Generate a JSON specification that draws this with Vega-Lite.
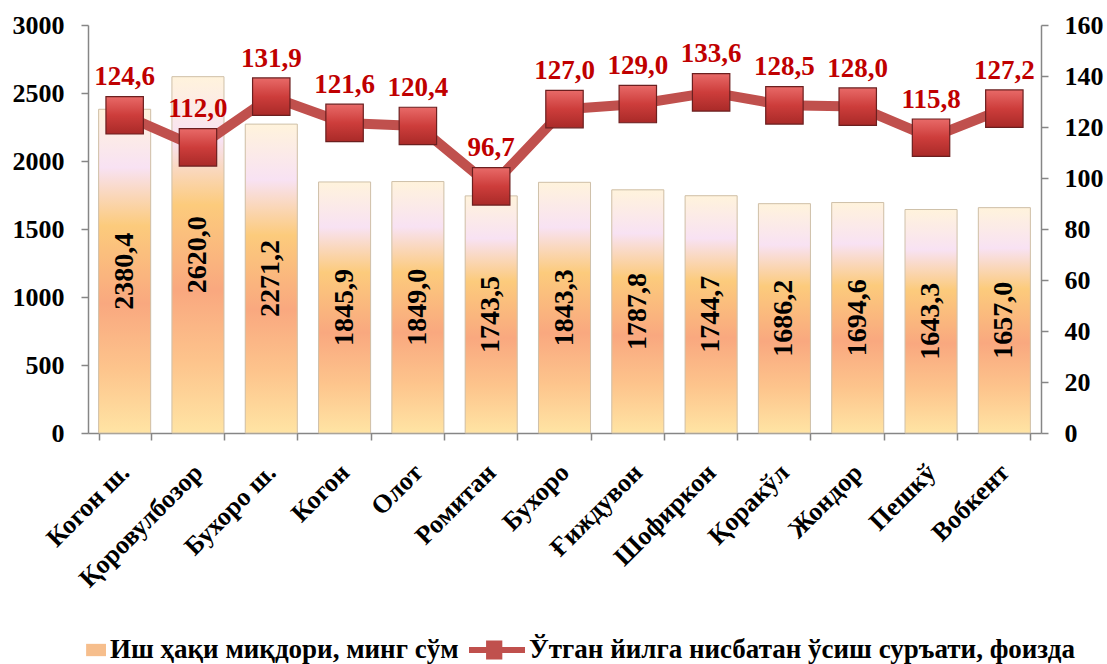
{
  "$schema": "https://vega.github.io/schema/vega-lite/v6.json",
  "width": 953,
  "height": 408,
  "autosize": {"type": "none"},
  "padding": {"left": 88, "top": 25, "right": 66, "bottom": 231},
  "background": "white",
  "config": {
    "locale": {"number": {"decimal": ",", "thousands": "", "grouping": [3], "currency": ["", ""]}},
    "view": {"stroke": null},
    "font": "Liberation Serif",
    "axis": {
      "domainColor": "#868686",
      "domainWidth": 1.5,
      "tickColor": "#868686",
      "tickWidth": 1.5,
      "tickSize": 7,
      "labelFont": "Liberation Serif",
      "labelFontSize": 26,
      "labelFontWeight": "bold",
      "labelColor": "#000000",
      "grid": false,
      "title": null
    }
  },
  "data": {
    "values": [
      {"region": "Когон ш.", "wage": 2380.4, "growth": 124.6},
      {"region": "Қоровулбозор", "wage": 2620.0, "growth": 112.0},
      {"region": "Бухоро ш.", "wage": 2271.2, "growth": 131.9},
      {"region": "Когон", "wage": 1845.9, "growth": 121.6},
      {"region": "Олот", "wage": 1849.0, "growth": 120.4},
      {"region": "Ромитан", "wage": 1743.5, "growth": 96.7},
      {"region": "Бухоро", "wage": 1843.3, "growth": 127.0},
      {"region": "Ғиждувон", "wage": 1787.8, "growth": 129.0},
      {"region": "Шофиркон", "wage": 1744.7, "growth": 133.6},
      {"region": "Қоракўл", "wage": 1686.2, "growth": 128.5},
      {"region": "Жондор", "wage": 1694.6, "growth": 128.0},
      {"region": "Пешкў", "wage": 1643.3, "growth": 115.8},
      {"region": "Вобкент", "wage": 1657.0, "growth": 127.2}
    ]
  },
  "encoding": {
    "x": {
      "field": "region",
      "type": "nominal",
      "sort": null,
      "scale": {"paddingInner": 0.29, "paddingOuter": 0.145},
      "axis": {
        "title": null,
        "labelAngle": -45,
        "labelAlign": "right",
        "labelBaseline": "middle",
        "labelPadding": 28,
        "labelLimit": 400,
        "tickBand": "extent"
      }
    }
  },
  "layer": [
    {
      "encoding": {
        "y": {
          "field": "wage",
          "type": "quantitative",
          "scale": {"domain": [0, 3000], "nice": false},
          "axis": {"orient": "left", "values": [0, 500, 1000, 1500, 2000, 2500, 3000], "format": "d", "labelPadding": 17, "title": null}
        }
      },
      "layer": [
        {
          "mark": {"type": "bar"},
          "encoding": {
            "color": {
              "datum": "Иш ҳақи миқдори, минг сўм",
              "type": "nominal",
              "scale": {
                "domain": ["Иш ҳақи миқдори, минг сўм", "Ўтган йилга нисбатан ўсиш суръати, фоизда"],
                "range": ["#F6BE8C", "#C0504D"]
              },
              "legend": {
                "orient": "none",
                "legendX": -38,
                "legendY": 597,
                "direction": "horizontal",
                "columns": 2,
                "title": null,
                "padding": 0,
                "labelFont": "Liberation Serif",
                "labelFontSize": 27,
                "labelFontWeight": "bold",
                "labelColor": "#000000",
                "labelLimit": 2000,
                "labelOffset": 4,
                "columnPadding": 10,
                "symbolSize": 3136,
                "encode": {
                  "symbols": {
                    "update": {
                      "shape": {"signal": "datum.value === 'Иш ҳақи миқдори, минг сўм' ? 'M0.29,-0.22L1,-0.22L1,0.22L0.29,0.22Z' : 'M-1,-0.11L-0.39,-0.11L-0.39,-0.34L0.19,-0.34L0.19,-0.11L1,-0.11L1,0.11L0.19,0.11L0.19,0.34L-0.39,0.34L-0.39,0.11L-1,0.11Z'"},
                      "fill": {"signal": "datum.value === 'Иш ҳақи миқдори, минг сўм' ? '#F4B985' : '#C8423F'"},
                      "stroke": {"value": "transparent"},
                      "strokeWidth": {"value": 0},
                      "opacity": {"value": 1},
                      "fillOpacity": {"value": 1}
                    }
                  }
                }
              }
            }
          }
        },
        {
          "mark": {
            "type": "bar",
            "fill": {
              "gradient": "linear",
              "x1": 0, "y1": 1, "x2": 0, "y2": 0,
              "stops": [
                {"offset": 0, "color": "#FFE4A4"},
                {"offset": 0.2, "color": "#FDC48C"},
                {"offset": 0.4, "color": "#F9A87F"},
                {"offset": 0.64, "color": "#FCCB7C"},
                {"offset": 0.82, "color": "#F8E2F3"},
                {"offset": 1, "color": "#FFF3DC"}
              ]
            },
            "stroke": "#CFC1AA",
            "strokeWidth": 1
          }
        }
      ]
    },
    {
      "encoding": {
        "y": {
          "field": "wage",
          "type": "quantitative",
          "scale": {"domain": [0, 6000], "nice": false},
          "axis": null
        }
      },
      "layer": [
        {
          "mark": {"type": "text", "angle": 270, "align": "center", "baseline": "middle", "font": "Liberation Serif", "fontSize": 28, "fontWeight": "bold", "color": "#000000"},
          "encoding": {
            "text": {"field": "wage", "type": "quantitative", "format": ".1f"}
          }
        }
      ]
    },
    {
      "encoding": {
        "y": {
          "field": "growth",
          "type": "quantitative",
          "scale": {"domain": [0, 160], "nice": false},
          "axis": {"orient": "right", "values": [0, 20, 40, 60, 80, 100, 120, 140, 160], "format": "d", "labelPadding": 16, "title": null}
        }
      },
      "layer": [
        {
          "mark": {"type": "line", "strokeWidth": 10, "strokeJoin": "round"},
          "encoding": {
            "color": {"datum": "Ўтган йилга нисбатан ўсиш суръати, фоизда", "type": "nominal"}
          }
        },
        {
          "mark": {
            "type": "point",
            "shape": "square",
            "filled": true,
            "size": 1400,
            "opacity": 1,
            "fill": {
              "gradient": "linear",
              "x1": 0, "y1": 0, "x2": 0, "y2": 1,
              "stops": [
                {"offset": 0, "color": "#E86A68"},
                {"offset": 0.5, "color": "#CD3D3B"},
                {"offset": 1, "color": "#A92A28"}
              ]
            },
            "stroke": "#6B1F1F",
            "strokeWidth": 1.2
          }
        },
        {
          "mark": {"type": "text", "dy": -30, "baseline": "alphabetic", "align": "center", "font": "Liberation Serif", "fontSize": 27, "fontWeight": "bold", "color": "#C00000"},
          "encoding": {
            "text": {"field": "growth", "type": "quantitative", "format": ".1f"}
          }
        }
      ]
    }
  ],
  "resolve": {"scale": {"y": "independent"}, "axis": {"y": "independent"}}
}
